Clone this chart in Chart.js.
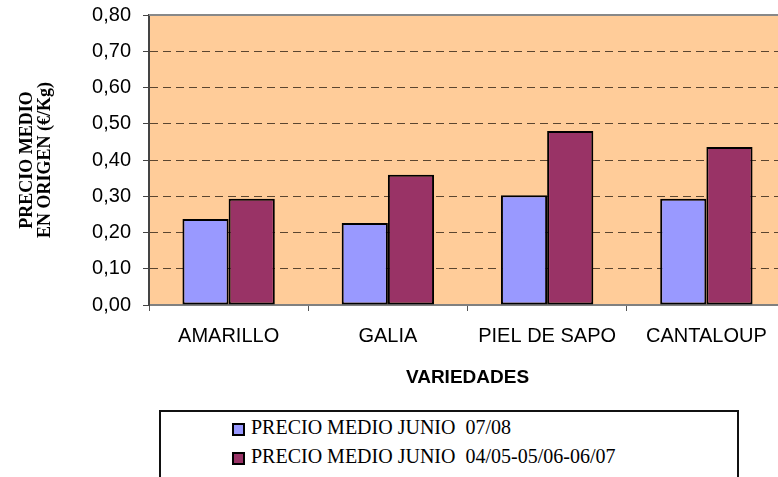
<!DOCTYPE html>
<html>
<head>
<meta charset="utf-8">
<script src="https://cdn.jsdelivr.net/npm/chart.js@4"></script>
<style>
  html, body { margin: 0; padding: 0; background: #fff; }
  #wrap { position: relative; width: 778px; height: 477px; overflow: hidden; }
  #chartBox { position: absolute; left: 0; top: 0; width: 790px; height: 405px; }
  #legendBox {
    position: absolute; left: 159px; top: 410px; width: 580px; height: 90px;
    border: 2px solid #111; box-sizing: border-box;
    font-family: "Liberation Serif", "Times New Roman", serif; font-size: 20px; color: #000;
  }
  .item { position: absolute; left: 71px; height: 20px; line-height: 20px; white-space: pre; }
  .swatch { position: absolute; left: 0; top: 3px; width: 9px; height: 9px; border: 2px solid #000; }
  .label { position: absolute; left: 19px; top: -3px; }
</style>
</head>
<body>
<div id="wrap">
  <div id="chartBox"><canvas id="melonChart" width="790" height="405"></canvas></div>
  <div id="legendBox"></div>
</div>
<script>
const categories = ["AMARILLO", "GALIA", "PIEL DE SAPO", "CANTALOUP"];
const seriesNames = ["PRECIO MEDIO JUNIO  07/08", "PRECIO MEDIO JUNIO  04/05-05/06-06/07"];
const precio0708 = [0.237, 0.226, 0.303, 0.293];
const precioMedia = [0.293, 0.359, 0.480, 0.436];
const yTicks = [0, 0.1, 0.2, 0.3, 0.4, 0.5, 0.6, 0.7, 0.8];
const seriesColors = ["#9999FF", "#993366"];

const plotBackground = {
  id: 'plotBackground',
  beforeDraw(chart) {
    const { ctx, chartArea: a } = chart;
    ctx.save();
    ctx.fillStyle = '#FFCC99';
    ctx.fillRect(a.left, a.top, a.right - a.left, a.bottom - a.top);
    ctx.restore();
  },
  beforeDatasetsDraw(chart) {
    const { ctx, chartArea: a } = chart;
    ctx.save();
    ctx.strokeStyle = '#888888';
    ctx.lineWidth = 2;
    ctx.beginPath();
    ctx.moveTo(a.left, a.top);
    ctx.lineTo(a.right, a.top);
    ctx.stroke();
    ctx.restore();
  }
};

const setupLegend = () => {
  const box = document.querySelector('#legendBox');
  seriesNames.forEach((name, i) => {
    const item = document.createElement('div');
    item.className = 'item';
    item.style.top = (8 + i * 29) + 'px';
    item.innerHTML = '<span class="swatch" style="background:' + seriesColors[i] + '"></span>' +
      '<span class="label"></span>';
    item.querySelector('.label').textContent = name;
    box.appendChild(item);
  });
};

const setupChart = () => {
  new Chart(document.getElementById('melonChart'), {
    type: 'bar',
    data: {
      labels: categories,
      datasets: [
        { label: seriesNames[0], data: precio0708, backgroundColor: seriesColors[0] },
        { label: seriesNames[1], data: precioMedia, backgroundColor: seriesColors[1] }
      ].map(ds => ({
        ...ds,
        borderColor: '#000',
        borderWidth: 2,
        borderSkipped: false,
        barPercentage: 1,
        categoryPercentage: 0.58
      }))
    },
    options: {
      responsive: false,
      animation: false,
      devicePixelRatio: 1,
      layout: { padding: { top: 15, right: 4, left: 0, bottom: 0 } },
      plugins: { legend: { display: false }, tooltip: { enabled: false } },
      scales: {
        x: {
          grid: { offset: true, drawOnChartArea: false, tickLength: 6, tickColor: '#555' },
          border: { color: '#808080', width: 2 },
          ticks: {
            color: '#000', padding: 13, maxRotation: 0,
            font: { family: '"Liberation Sans", Arial, sans-serif', size: 20 }
          },
          title: {
            display: true, text: 'VARIEDADES', color: '#000',
            padding: { top: 0, bottom: 16 },
            font: { family: '"Liberation Sans", Arial, sans-serif', size: 19, weight: 'bold' }
          },
          afterFit: (scale) => { scale.height = 100; }
        },
        y: {
          min: 0,
          max: 0.8,
          afterBuildTicks: (scale) => { scale.ticks = yTicks.map(v => ({ value: v })); },
          afterFit: (scale) => {
            scale.width = 149;
            scale.paddingTop = 0;
            scale.paddingBottom = 0;
          },
          grid: {
            color: (c) => (c.tick && (c.tick.value === 0 || c.tick.value === 0.8)) ? 'rgba(0,0,0,0)' : 'rgba(50,35,20,0.8)',
            tickColor: '#444',
            tickLength: 6,
            tickBorderDash: [],
            drawTicks: true
          },
          border: { color: '#444', width: 2, dash: [8, 5] },
          ticks: {
            color: '#000', padding: 12,
            font: { family: '"Liberation Sans", Arial, sans-serif', size: 20 },
            callback: (v) => Number(v).toFixed(2).replace('.', ',')
          },
          title: {
            display: true, text: ['PRECIO MEDIO', 'EN ORIGEN (€/Kg)'], color: '#000',
            padding: { top: 18, bottom: 0 },
            font: { family: '"Liberation Serif", "Times New Roman", serif', size: 18, weight: 'bold', lineHeight: 1 }
          }
        }
      }
    },
    plugins: [plotBackground]
  });
};

document.addEventListener('DOMContentLoaded', () => {
  setupLegend();
  setupChart();
});
</script>
</body>
</html>
